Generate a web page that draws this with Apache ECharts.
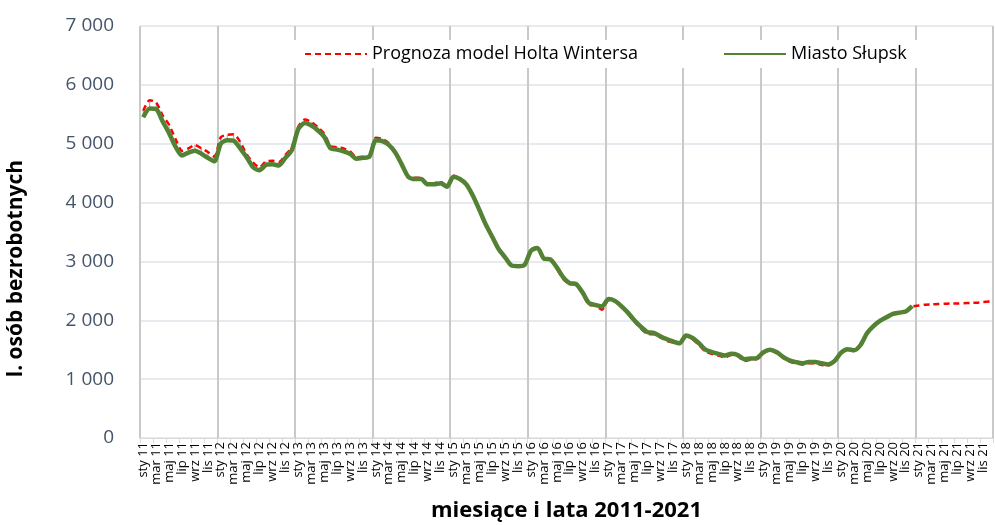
<!DOCTYPE html>
<html>
<head>
<meta charset="utf-8">
<script src="https://cdn.jsdelivr.net/npm/echarts@6/dist/echarts.min.js"></script>
<style>
  html, body { margin: 0; padding: 0; background: #fff; }
  #chart { width: 995px; height: 525px; }
</style>
</head>
<body>
<div id="chart"></div>
<script>
// miesiące i lata
const monthNames = ['sty', 'lut', 'mar', 'kwi', 'maj', 'cze', 'lip', 'sie', 'wrz', 'paź', 'lis', 'gru']
const years = ['11', '12', '13', '14', '15', '16', '17', '18', '19', '20', '21']
const yTicks = [0, 1000, 2000, 3000, 4000, 5000, 6000, 7000]

// Miasto Słupsk (sty 11 - gru 20)
const slupsk2011 = [5450, 5600, 5590, 5380, 5180, 4950, 4800, 4850, 4880, 4830, 4760, 4700]
const slupsk2012 = [5000, 5060, 5050, 4920, 4770, 4600, 4550, 4640, 4650, 4630, 4760, 4890]
const slupsk2013 = [5250, 5350, 5310, 5230, 5120, 4920, 4900, 4870, 4830, 4745, 4760, 4780]
const slupsk2014 = [5060, 5045, 4980, 4850, 4650, 4440, 4400, 4400, 4310, 4310, 4330, 4270]
const slupsk2015 = [4440, 4400, 4310, 4120, 3880, 3630, 3420, 3210, 3070, 2930, 2920, 2940]
const slupsk2016 = [3180, 3230, 3050, 3035, 2900, 2730, 2630, 2615, 2470, 2290, 2260, 2235]
const slupsk2017 = [2360, 2330, 2240, 2130, 2000, 1890, 1800, 1785, 1730, 1680, 1640, 1610]
const slupsk2018 = [1740, 1700, 1610, 1500, 1460, 1430, 1400, 1430, 1410, 1340, 1350, 1360]
const slupsk2019 = [1460, 1500, 1460, 1380, 1320, 1290, 1270, 1290, 1290, 1270, 1250, 1310]
const slupsk2020 = [1450, 1510, 1490, 1580, 1780, 1900, 1990, 2050, 2110, 2130, 2150, 2240]

// Prognoza model Holta Wintersa (sty 11 - gru 21)
const prognoza2011 = [5560, 5740, 5700, 5480, 5320, 5080, 4880, 4920, 4980, 4920, 4860, 4780]
const prognoza2012 = [5110, 5150, 5160, 5030, 4820, 4680, 4600, 4700, 4710, 4690, 4810, 4940]
const prognoza2013 = [5290, 5410, 5370, 5280, 5170, 4960, 4940, 4920, 4870, 4770, 4780, 4800]
const prognoza2014 = [5100, 5080, 5010, 4870, 4650, 4440, 4420, 4420, 4320, 4330, 4350, 4280]
const prognoza2015 = [4460, 4400, 4310, 4120, 3860, 3610, 3420, 3190, 3060, 2920, 2930, 2950]
const prognoza2016 = [3200, 3240, 3030, 3040, 2880, 2700, 2620, 2600, 2450, 2260, 2250, 2180]
const prognoza2017 = [2350, 2320, 2220, 2110, 1980, 1860, 1770, 1760, 1710, 1650, 1620, 1600]
const prognoza2018 = [1730, 1680, 1580, 1470, 1430, 1400, 1370, 1410, 1390, 1310, 1330, 1340]
const prognoza2019 = [1440, 1490, 1440, 1360, 1300, 1270, 1250, 1270, 1270, 1240, 1230, 1300]
const prognoza2020 = [1440, 1500, 1480, 1570, 1770, 1890, 1980, 2040, 2100, 2130, 2150, 2230]
const prognoza2021 = [2250, 2265, 2270, 2275, 2280, 2285, 2285, 2290, 2295, 2300, 2310, 2320]

const categories = []
years.forEach(y => monthNames.forEach(m => categories.push(m + ' ' + y)))

const slupsk = [].concat(slupsk2011, slupsk2012, slupsk2013, slupsk2014, slupsk2015,
  slupsk2016, slupsk2017, slupsk2018, slupsk2019, slupsk2020)
const prognoza = [].concat(prognoza2011, prognoza2012, prognoza2013, prognoza2014, prognoza2015,
  prognoza2016, prognoza2017, prognoza2018, prognoza2019, prognoza2020, prognoza2021)

// linie łączące obie serie
const hiLo = slupsk.map((v, i) => [i, prognoza[i], v])

const font = '"Open Sans", sans-serif'
const fmt = v => String(v).replace(/\B(?=(\d{3})+(?!\d))/g, ' ')

const chart = echarts.init(document.getElementById('chart'), null, { renderer: 'canvas' })
chart.setOption({
  animation: false,
  textStyle: { fontFamily: font },
  grid: { left: 140, right: 2, top: 26, bottom: 87, containLabel: false, outerBoundsMode: 'none' },
  legend: {
    data: ['Prognoza model Holta Wintersa', 'Miasto Słupsk'],
    left: 290,
    top: 40,
    backgroundColor: '#fff',
    padding: [5, 14],
    itemWidth: 62,
    itemHeight: 12,
    itemGap: 85,
    itemStyle: { opacity: 0 },
    textStyle: { fontFamily: font, fontSize: 18, color: '#000' }
  },
  xAxis: {
    type: 'category',
    data: categories,
    boundaryGap: true,
    name: 'miesiące i lata 2011-2021',
    nameLocation: 'middle',
    nameGap: 62,
    nameTextStyle: { fontFamily: font, fontSize: 22, fontWeight: 'bold', color: '#000' },
    axisLine: { lineStyle: { color: '#d9d9d9', width: 1 } },
    axisTick: { show: true, interval: 1, length: 5, lineStyle: { color: '#d9d9d9' } },
    axisLabel: {
      interval: 1,
      rotate: 90,
      margin: 4,
      fontFamily: font,
      fontSize: 13,
      color: '#000'
    },
    splitLine: { show: true, interval: 11, lineStyle: { color: '#c9c9c9', width: 2 } }
  },
  yAxis: {
    type: 'value',
    min: yTicks[0],
    max: yTicks[yTicks.length - 1],
    interval: 1000,
    axisLine: { show: false },
    axisTick: { show: false },
    axisLabel: { formatter: fmt, fontFamily: font, fontSize: 19, color: '#44546a', margin: 26 },
    splitLine: { lineStyle: { color: '#dfe3ea', width: 1.5 } }
  },
  graphic: [{
    type: 'text',
    left: 6,
    top: 160,
    rotation: Math.PI / 2,
    style: {
      text: 'l. osób bezrobotnych',
      font: 'bold 21px "Open Sans", sans-serif',
      fill: '#000'
    }
  }],
  series: [
    {
      type: 'custom',
      silent: true,
      z: 1,
      data: hiLo,
      renderItem: (params, api) => {
        const a = api.coord([api.value(0), api.value(1)])
        const b = api.coord([api.value(0), api.value(2)])
        return {
          type: 'line',
          shape: { x1: a[0], y1: a[1], x2: b[0], y2: b[1] },
          style: { stroke: '#8ea3c2', lineWidth: 1 }
        }
      }
    },
    {
      name: 'Prognoza model Holta Wintersa',
      type: 'line',
      data: prognoza,
      symbol: 'none',
      smooth: 0.25,
      z: 2,
      lineStyle: { color: '#ff0000', width: 2.5, type: [6, 4] },
      itemStyle: { color: '#ff0000' }
    },
    {
      name: 'Miasto Słupsk',
      type: 'line',
      data: slupsk,
      symbol: 'none',
      smooth: 0.25,
      z: 3,
      lineStyle: { color: '#548235', width: 4.5 },
      itemStyle: { color: '#548235' }
    }
  ]
})
</script>
</body>
</html>
